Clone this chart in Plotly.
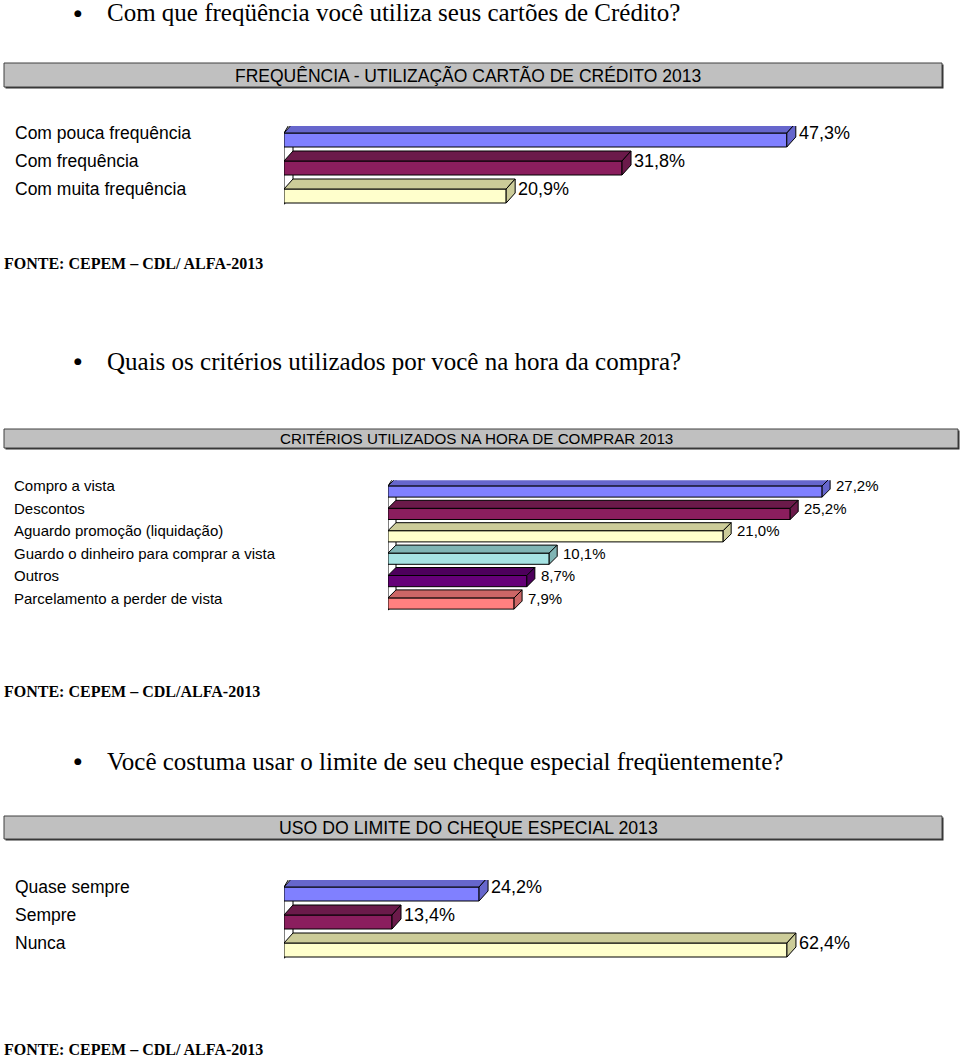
import plotly.graph_objects as go

W, H = 960, 1059

# --- data ---
cartao_categorias = ["Com pouca frequência", "Com frequência", "Com muita frequência"]
cartao_valores = [47.3, 31.8, 20.9]

criterios_categorias = [
    "Compro a vista",
    "Descontos",
    "Aguardo promoção (liquidação)",
    "Guardo o dinheiro para comprar a vista",
    "Outros",
    "Parcelamento a perder de vista",
]
criterios_valores = [27.2, 25.2, 21.0, 10.1, 8.7, 7.9]

cheque_categorias = ["Quase sempre", "Sempre", "Nunca"]
cheque_valores = [24.2, 13.4, 62.4]

# Excel-like 3D palette: front face / top+side face
FRONT = ["#8080FF", "#8B1E5E", "#FFFFCC", "#A6E3E3", "#650078", "#FF8080"]
SHADE = ["#6666CC", "#6B1A4A", "#CCCC99", "#80B5B5", "#4D005C", "#CC6666"]


def fx(p):
    return p / W


def fy(p):
    return 1 - p / H


def pct(v):
    return f"{v:.1f}%".replace(".", ",")


charts = [
    dict(cats=cartao_categorias, vals=cartao_valores, x0=284, ppu=10.63, xmax=60,
         row0=140, step=28, dx=9, dy=10, cat_size=17.5, val_size=18, lab_x=13, lift=7, vshift=10),
    dict(cats=criterios_categorias, vals=criterios_valores, x0=388, ppu=15.96, xmax=35,
         row0=491.5, step=22.4, dx=8, dy=8, cat_size=15, val_size=15, lab_x=12, lift=5.5, vshift=12),
    dict(cats=cheque_categorias, vals=cheque_valores, x0=284, ppu=8.06, xmax=80,
         row0=894, step=28, dx=9, dy=10, cat_size=17.5, val_size=18, lab_x=13, lift=7, vshift=10),
]

fig = go.Figure()
shapes = []
annotations = []
layout_axes = {}

for k, ch in enumerate(charts, start=1):
    xa = "x" if k == 1 else f"x{k}"
    ya = "y" if k == 1 else f"y{k}"
    n = len(ch["vals"])
    rows = list(range(n))
    bw = 0.5

    fig.add_trace(go.Bar(
        x=ch["vals"], y=rows, orientation="h", width=bw,
        marker=dict(color=FRONT[:n], line=dict(color="black", width=1)),
        xaxis=xa, yaxis=ya, hoverinfo="skip", showlegend=False,
    ))

    layout_axes["xaxis" if k == 1 else f"xaxis{k}"] = dict(
        domain=[fx(ch["x0"]), fx(ch["x0"] + ch["xmax"] * ch["ppu"])],
        range=[0, ch["xmax"]], visible=False, fixedrange=True, anchor=ya,
    )
    layout_axes["yaxis" if k == 1 else f"yaxis{k}"] = dict(
        domain=[fy(ch["row0"] + ch["step"] * (n - 0.5)), fy(ch["row0"] - ch["step"] * 0.5)],
        range=[n - 0.5, -0.5], visible=False, fixedrange=True, anchor=xa,
    )

    ddx = ch["dx"] / ch["ppu"]
    ddy = ch["dy"] / ch["step"]

    # left wall
    yb = n - 1 + bw / 2 + 0.05
    yt = -bw / 2
    shapes.append(dict(
        type="path", xref=xa, yref=ya, layer="below",
        path=f"M 0,{yb} L 0,{yt} L {ddx},{yt - ddy * 1.5} L {ddx},{yb - ddy} Z",
        fillcolor="white", line=dict(color="black", width=1),
    ))

    for i, v in enumerate(ch["vals"]):
        t = i - bw / 2
        b = i + bw / 2
        # top face
        shapes.append(dict(
            type="path", xref=xa, yref=ya,
            path=f"M 0,{t} L {v},{t} L {v + ddx},{t - ddy} L {ddx},{t - ddy} Z",
            fillcolor=SHADE[i], line=dict(color="black", width=1),
        ))
        # side face
        shapes.append(dict(
            type="path", xref=xa, yref=ya,
            path=f"M {v},{t} L {v + ddx},{t - ddy} L {v + ddx},{b - ddy} L {v},{b} Z",
            fillcolor=SHADE[i], line=dict(color="black", width=1),
        ))
        annotations.append(dict(
            xref=xa, yref=ya, x=v, y=i, xshift=ch["vshift"], yshift=ch["lift"],
            xanchor="left", yanchor="middle", text=pct(v), showarrow=False,
            font=dict(family="Liberation Sans, Arial", size=ch["val_size"], color="black"),
        ))
        annotations.append(dict(
            xref="paper", yref=ya, x=fx(ch["lab_x"]), y=i, yshift=ch["lift"],
            xanchor="left", yanchor="middle", text=ch["cats"][i], showarrow=False,
            font=dict(family="Liberation Sans, Arial", size=ch["cat_size"], color="black"),
        ))

# title boxes
boxes = [
    (4, 63, 942, 87, "FREQUÊNCIA - UTILIZAÇÃO CARTÃO DE CRÉDITO 2013", 17.5),
    (4, 429, 958, 448, "CRITÉRIOS UTILIZADOS NA HORA DE COMPRAR 2013", 15.2),
    (4, 816, 942, 839, "USO DO LIMITE DO CHEQUE ESPECIAL 2013", 17.7),
]
for x0, y0, x1, y1, txt, size in boxes:
    shapes.append(dict(type="rect", xref="paper", yref="paper",
                       x0=fx(x0 + 1.5), x1=fx(x1 + 1.5), y0=fy(y1 + 1.5), y1=fy(y0 + 1.5),
                       fillcolor="#303030", line=dict(width=0)))
    shapes.append(dict(type="rect", xref="paper", yref="paper",
                       x0=fx(x0), x1=fx(x1), y0=fy(y1), y1=fy(y0),
                       fillcolor="#C0C0C0", line=dict(color="#404040", width=1)))
    annotations.append(dict(
        xref="paper", yref="paper", x=fx((x0 + x1) / 2 - 5), y=fy((y0 + y1) / 2),
        xanchor="center", yanchor="middle", text=txt, showarrow=False,
        font=dict(family="Liberation Sans, Arial", size=size, color="black"),
    ))

# questions (bullets) and sources
questions = [
    (13, "Com que freqüência você utiliza seus cartões de Crédito?"),
    (361, "Quais os critérios utilizados por você na hora da compra?"),
    (761, "Você costuma usar o limite de seu cheque especial freqüentemente?"),
]
for yy, txt in questions:
    annotations.append(dict(
        xref="paper", yref="paper", x=fx(78), y=fy(yy), xanchor="center", yanchor="middle",
        text="●", showarrow=False,
        font=dict(family="DejaVu Sans", size=9, color="black"),
    ))
    annotations.append(dict(
        xref="paper", yref="paper", x=fx(105), y=fy(yy), xanchor="left", yanchor="middle",
        text=txt, showarrow=False,
        font=dict(family="Liberation Serif, Times New Roman", size=25, color="black"),
    ))

fontes = [
    (263, "FONTE: CEPEM – CDL/ ALFA-2013"),
    (691, "FONTE: CEPEM – CDL/ALFA-2013"),
    (1049, "FONTE: CEPEM – CDL/ ALFA-2013"),
]
for yy, txt in fontes:
    annotations.append(dict(
        xref="paper", yref="paper", x=fx(2), y=fy(yy), xanchor="left", yanchor="middle",
        text=f"<b>{txt}</b>", showarrow=False,
        font=dict(family="Liberation Serif, Times New Roman", size=16, color="black"),
    ))

fig.update_layout(
    width=W, height=H,
    margin=dict(l=0, r=0, t=0, b=0),
    paper_bgcolor="white", plot_bgcolor="white",
    shapes=shapes, annotations=annotations,
    showlegend=False,
    **layout_axes,
)

fig.write_html("out.html", config={"displayModeBar": False},
               post_script="document.body.style.margin='0';")
